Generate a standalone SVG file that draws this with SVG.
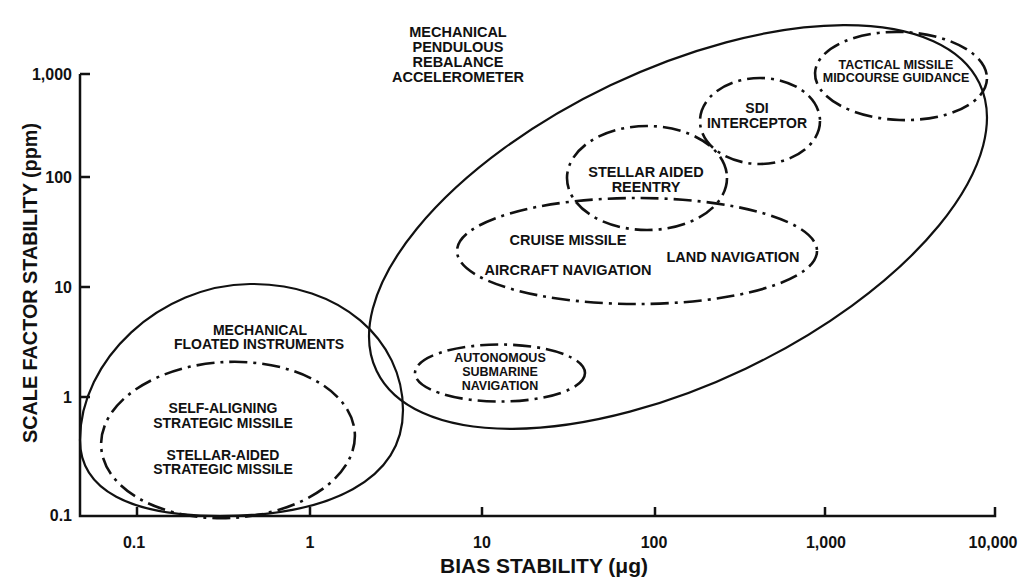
<svg xmlns="http://www.w3.org/2000/svg" width="1036" height="578" viewBox="0 0 1036 578">
<style>
.t{font-family:"Liberation Sans",Arial,sans-serif;font-weight:bold;fill:#111;text-anchor:middle}
.ax{stroke:#111;stroke-width:2.5;fill:none}
.solid{stroke:#111;stroke-width:2.2;fill:none}
.dd{stroke:#111;stroke-width:2.6;fill:none;stroke-dasharray:18 6 3 6}
</style>
<rect width="1036" height="578" fill="#fff"/>
<g id="axes">
<path class="ax" d="M80 74 V516 H995 V507"/>
<path class="ax" d="M80 74 H90 M80 177 H90 M80 287 H90 M80 397 H90 M137 516 V507 M310 516 V507 M482 516 V507 M655 516 V507 M825 516 V507"/>
<g class="t" font-size="16" style="text-anchor:end">
<text x="72" y="80">1,000</text>
<text x="72" y="183">100</text>
<text x="72" y="293">10</text>
<text x="72" y="403">1</text>
<text x="72" y="521">0.1</text>
</g>
<g class="t" font-size="16">
<text x="134" y="548">0.1</text>
<text x="310" y="548">1</text>
<text x="482" y="548">10</text>
<text x="654" y="548">100</text>
<text x="826" y="548">1,000</text>
<text x="993" y="548">10,000</text>
</g>
<text class="t" font-size="20" x="544" y="573" textLength="208" lengthAdjust="spacingAndGlyphs">BIAS STABILITY (μg)</text>
<text class="t" font-size="20" transform="translate(37 283) rotate(-90)" textLength="320" lengthAdjust="spacingAndGlyphs">SCALE FACTOR STABILITY (ppm)</text>
</g>
<g id="accelerometer">
<ellipse class="solid" cx="678" cy="227" rx="334" ry="157" transform="rotate(-25.5 678 227)"/>
<text class="t" font-size="14.5" x="458" y="37">MECHANICAL</text>
<text class="t" font-size="14.5" x="458" y="52">PENDULOUS</text>
<text class="t" font-size="14.5" x="458" y="67">REBALANCE</text>
<text class="t" font-size="14.5" x="458" y="82">ACCELEROMETER</text>
</g>
<g id="floated">
<path class="solid" d="M80 440 C80 360 160 285 250 284 C340 283 403 340 403 410 C403 480 330 516 220 516 C130 516 80 490 80 440 Z"/>
<text class="t" font-size="14" x="260" y="335">MECHANICAL</text>
<text class="t" font-size="14" x="259" y="349">FLOATED INSTRUMENTS</text>
</g>
<g id="strategic">
<ellipse class="dd" cx="228" cy="440" rx="127" ry="78" transform="rotate(-3 228 440)"/>
<text class="t" font-size="14" x="223" y="413">SELF-ALIGNING</text>
<text class="t" font-size="14" x="223" y="428">STRATEGIC MISSILE</text>
<text class="t" font-size="14" x="223" y="460">STELLAR-AIDED</text>
<text class="t" font-size="14" x="223" y="474">STRATEGIC MISSILE</text>
</g>
<g id="submarine">
<ellipse class="dd" cx="500" cy="373" rx="85" ry="28.5"/>
<text class="t" font-size="12.5" x="500" y="362">AUTONOMOUS</text>
<text class="t" font-size="12.5" x="500" y="376">SUBMARINE</text>
<text class="t" font-size="12.5" x="500" y="390">NAVIGATION</text>
</g>
<g id="navigation">
<ellipse class="dd" cx="637" cy="251" rx="180" ry="53"/>
<text class="t" font-size="14.5" x="568" y="245">CRUISE MISSILE</text>
<text class="t" font-size="14.5" x="568" y="275">AIRCRAFT NAVIGATION</text>
<text class="t" font-size="14.5" x="733" y="262">LAND NAVIGATION</text>
</g>
<g id="reentry">
<ellipse class="dd" cx="647" cy="178" rx="80" ry="52"/>
<text class="t" font-size="14.5" x="646" y="177">STELLAR AIDED</text>
<text class="t" font-size="14.5" x="646" y="192">REENTRY</text>
</g>
<g id="sdi">
<ellipse class="dd" cx="760" cy="121" rx="60" ry="43"/>
<text class="t" font-size="14" x="757" y="113">SDI</text>
<text class="t" font-size="14" x="757" y="128">INTERCEPTOR</text>
</g>
<g id="tactical">
<ellipse class="dd" cx="901" cy="76" rx="86" ry="44" transform="rotate(2 901 76)"/>
<text class="t" font-size="12.5" x="896" y="69">TACTICAL MISSILE</text>
<text class="t" font-size="12.5" x="896" y="82">MIDCOURSE GUIDANCE</text>
</g>
</svg>
